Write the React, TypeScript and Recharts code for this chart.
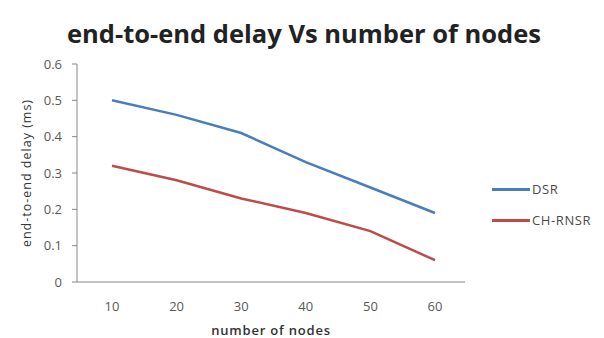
import { LineChart, Line, XAxis, YAxis } from 'recharts';

const nodes = [10, 20, 30, 40, 50, 60];
const dsr = [0.5, 0.46, 0.41, 0.33, 0.26, 0.19];
const chRnsr = [0.32, 0.28, 0.23, 0.19, 0.14, 0.06];
const yTicks = [0, 0.1, 0.2, 0.3, 0.4, 0.5, 0.6];

const series = [
  { key: 'DSR', values: dsr, color: '#4A7EBB' },
  { key: 'CH-RNSR', values: chRnsr, color: '#BE4B48' },
];

const data = nodes.map((n, i) => ({
  nodes: n,
  DSR: dsr[i],
  'CH-RNSR': chRnsr[i],
}));

const font = '"Open Sans", "DejaVu Sans", sans-serif';
const axisGray = '#868686';
const textGray = '#595959';

export default function App() {
  return (
    <div style={{ position: 'fixed', left: 0, top: 0, width: 604, height: 338, background: '#fff', fontFamily: font }}>
      <div
        style={{
          position: 'absolute',
          left: 0,
          top: 17,
          width: 608,
          textAlign: 'center',
          fontSize: 25.5,
          fontWeight: 700,
          color: '#222',
          lineHeight: '32px',
        }}
      >
        end-to-end delay Vs number of nodes
      </div>
      <LineChart width={604} height={338} data={data} margin={{ top: 64, right: 139, bottom: 0, left: 0 }}>
        <XAxis
          dataKey="nodes"
          height={56}
          padding={{ left: 35, right: 30 }}
          tickLine={false}
          tickMargin={14}
          stroke={axisGray}
          tick={{ fill: textGray, fontSize: 13, fontFamily: font }}
          label={{
            value: 'number of nodes',
            position: 'insideBottom',
            offset: 3,
            fill: '#333',
            fontSize: 13,
            fontWeight: 600,
            letterSpacing: 0.8,
            fontFamily: font,
          }}
        />
        <YAxis
          width={77}
          domain={[0, 0.6]}
          ticks={yTicks}
          tickSize={5}
          tickMargin={10}
          stroke={axisGray}
          tick={{ fill: textGray, fontSize: 13, fontFamily: font }}
          label={{
            value: 'end-to-end delay (ms)',
            angle: -90,
            position: 'insideLeft',
            offset: 27,
            style: { textAnchor: 'middle' },
            fill: '#333',
            fontSize: 12.5,
            letterSpacing: 1,
            fontFamily: font,
          }}
        />
        {series.map((s) => (
          <Line
            key={s.key}
            type="linear"
            dataKey={s.key}
            stroke={s.color}
            strokeWidth={2.5}
            dot={false}
            isAnimationActive={false}
          />
        ))}
      </LineChart>
      {series.map((s, i) => (
        <div
          key={s.key}
          style={{
            position: 'absolute',
            left: 492,
            top: 180 + i * 31,
            height: 18,
            display: 'flex',
            alignItems: 'center',
            fontSize: 13,
            letterSpacing: 0.6,
            color: '#4a4a4a',
          }}
        >
          <span style={{ display: 'inline-block', width: 38, height: 3, background: s.color, marginRight: 2 }} />
          {s.key}
        </div>
      ))}
    </div>
  );
}
